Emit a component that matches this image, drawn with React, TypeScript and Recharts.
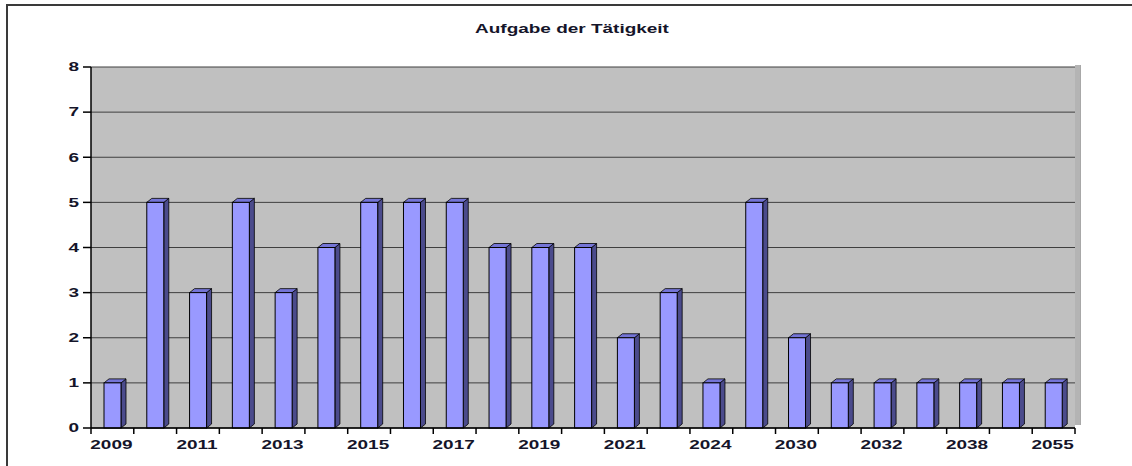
import { BarChart, Bar, XAxis, YAxis, CartesianGrid } from 'recharts';

// years on the category axis (only every other one is labelled in the original)
const years = [
  '2009', '2010', '2011', '2012', '2013', '2014', '2015', '2016', '2017', '2018', '2019', '2020',
  '2021', '2022', '2024', '2025', '2030', '2031', '2032', '2035', '2038', '2040', '2055',
];
const counts = [1, 5, 3, 5, 3, 4, 5, 5, 5, 4, 4, 4, 2, 3, 1, 5, 2, 1, 1, 1, 1, 1, 1];
const yTicks = [0, 1, 2, 3, 4, 5, 6, 7, 8];

const data = years.map((year, i) => ({ year, count: counts[i] }));

const W = 1132;
const H = 466;
const PLOT_LEFT = 91;
const PLOT_RIGHT = 1075;
const PLOT_TOP = 67;
const PLOT_BOTTOM = 428;
const BAND = (PLOT_RIGHT - PLOT_LEFT) / years.length;
const STRETCH = 1.58; // the source image is stretched horizontally
const FONT = '"Liberation Sans", Arial, sans-serif';
const TEXT = '#15152a';

/**
 * Bar with the old office-style pseudo 3D look: front face, top and right side.
 */
function Bar3D(props: any) {
  const { x, y, width, height } = props;
  if (!height || height <= 0) return null;
  const d = 5; // depth
  const b = y + height;
  return (
    <g>
      <polygon
        points={`${x + width},${y} ${x + width + d},${y - 4} ${x + width + d},${b - 4} ${x + width},${b}`}
        fill="#4b4b8c"
        stroke="#000"
        strokeWidth={0.8}
      />
      <polygon
        points={`${x},${y} ${x + d},${y - 4} ${x + width + d},${y - 4} ${x + width},${y}`}
        fill="#7474d6"
        stroke="#000"
        strokeWidth={0.8}
      />
      <rect x={x} y={y} width={width} height={height} fill="#9999ff" stroke="#000" strokeWidth={1} />
    </g>
  );
}

function XTick(props: any) {
  const { x, y, index, payload } = props;
  const left = x - BAND / 2;
  const last = index === years.length - 1;
  return (
    <g>
      <line x1={left} y1={y} x2={left} y2={y + 6} stroke="#000" strokeWidth={1.5} />
      {last && <line x1={x + BAND / 2} y1={y} x2={x + BAND / 2} y2={y + 6} stroke="#000" strokeWidth={1.5} />}
      {index % 2 === 0 && (
        <text
          transform={`translate(${x - 1},${y + 21}) scale(${STRETCH},1)`}
          textAnchor="middle"
          fontSize={12}
          fontWeight="bold"
          fontFamily={FONT}
          fill={TEXT}
        >
          {payload.value}
        </text>
      )}
    </g>
  );
}

function YTick(props: any) {
  const { x, y, payload } = props;
  return (
    <text
      transform={`translate(${x},${y}) scale(${STRETCH},1)`}
      textAnchor="end"
      dy="0.36em"
      fontSize={12}
      fontWeight="bold"
      fontFamily={FONT}
      fill={TEXT}
    >
      {payload.value}
    </text>
  );
}

export default function App() {
  return (
    <div style={{ position: 'absolute', left: 0, top: 0, width: W, height: H, background: '#fff', overflow: 'hidden' }}>
      <div
        style={{
          position: 'absolute',
          left: 6,
          top: 4,
          width: W,
          height: H,
          borderTop: '2px solid #3a3a3a',
          borderLeft: '2px solid #3a3a3a',
        }}
      />
      {/* right side wall of the 3D plot box */}
      <div
        style={{
          position: 'absolute',
          left: PLOT_RIGHT,
          top: PLOT_TOP - 2,
          width: 5,
          height: PLOT_BOTTOM - PLOT_TOP - 1,
          background: '#b4b4b4',
          borderRight: '1px solid #a8a8a8',
        }}
      />
      <div
        style={{
          position: 'absolute',
          left: 372,
          top: 23,
          width: 400,
          textAlign: 'center',
          fontFamily: FONT,
          fontWeight: 'bold',
          fontSize: 12,
          lineHeight: '12px',
          color: TEXT,
          transform: `scaleX(${STRETCH})`,
        }}
      >
        Aufgabe der Tätigkeit
      </div>
      <div style={{ position: 'absolute', left: 0, top: 0 }}>
        <BarChart
          width={W}
          height={H}
          data={data}
          margin={{ top: PLOT_TOP, right: W - PLOT_RIGHT, left: PLOT_LEFT - 40, bottom: H - PLOT_BOTTOM - 30 }}
        >
          <CartesianGrid vertical={false} fill="#c0c0c0" stroke="#3f3f3f" strokeWidth={1} fillOpacity={1} />
          <XAxis
            dataKey="year"
            interval={0}
            height={30}
            tick={<XTick />}
            tickLine={false}
            tickSize={0}
            tickMargin={0}
            axisLine={{ stroke: '#000', strokeWidth: 1.5 }}
          />
          <YAxis
            width={40}
            domain={[0, 8]}
            ticks={yTicks}
            interval={0}
            tick={<YTick />}
            tickSize={8}
            tickMargin={4}
            tickLine={{ stroke: '#000', strokeWidth: 1.5 }}
            axisLine={{ stroke: '#000', strokeWidth: 1.5 }}
          />
          <Bar dataKey="count" barSize={17} shape={<Bar3D />} isAnimationActive={false} />
        </BarChart>
      </div>
    </div>
  );
}
